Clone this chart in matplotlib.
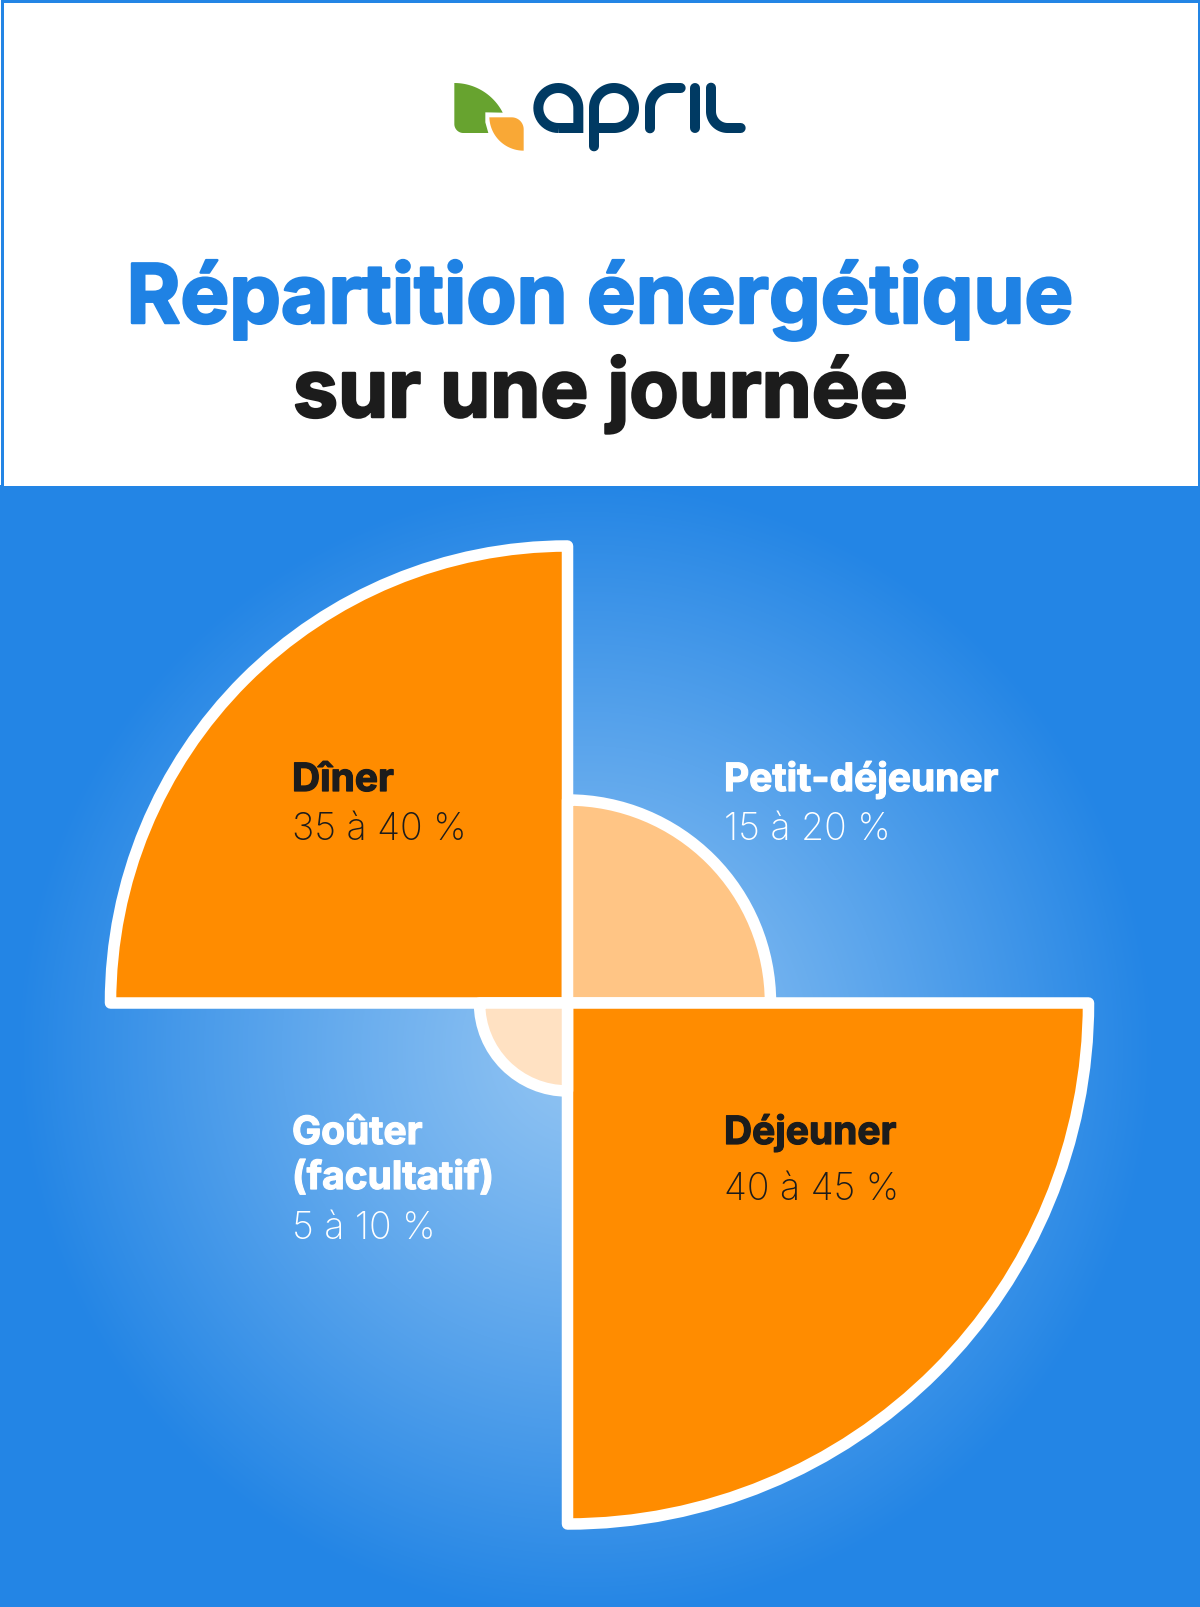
import matplotlib
matplotlib.use('Agg')
import matplotlib.pyplot as plt
import matplotlib.patheffects as pe
from matplotlib.patches import Polygon, Rectangle
import numpy as np

# Meals, clockwise from top left
meals = ['Dîner', 'Petit-déjeuner', 'Déjeuner', 'Goûter\n(facultatif)']
ranges = ['35 à 40 %', '15 à 20 %', '40 à 45 %', '5 à 10 %']
# radial length of each quarter
radii = [457, 203, 521, 88]
angles_deg = [135, 45, 315, 225]
slice_colors = ['#ff8c00', '#ffc585', '#ff8c00', '#ffe1c2']
text_colors = ['#1c1c1c', '#ffffff', '#1c1c1c', '#ffffff']

W, H = 1200, 1608
BLUE = '#2385e5'
NAVY = '#003a63'
BOLD = 'Inter'
LIGHT = 'Inter'


def arc(cx, cy, r, a0, a1, n=40):
    # angles in degrees, y pointing down
    t = np.radians(np.linspace(a0, a1, n))
    return np.column_stack([cx + r * np.cos(t), cy + r * np.sin(t)])


def heavy(color, lw):
    # thicken the bold face a little, same colour as the text
    return [pe.withStroke(linewidth=lw, foreground=color)]


def draw_logo(ax):
    # coordinates from a 3x crop of the logo starting at (420, 60)
    def to_px(pts):
        return np.asarray(pts) / 3.0 + [420, 60]

    green = np.vstack([[[103, 72]], arc(103, 235, 163, -90, -27), [[196, 160], [196, 190], [205, 222]],
                       arc(130, 195, 27, 90, 180)])
    orange = np.vstack([[[208, 175], [275, 175]], arc(275, 211, 36, -90, 0), [[311, 275]],
                        arc(311, 172, 103, 90, 175)])
    ax.add_patch(Polygon(to_px(green), closed=True, fc='#67a32f', ec='none', zorder=4))
    ax.add_patch(Polygon(to_px(orange), closed=True, fc='#f9a836', ec='none', zorder=4))

    strokes = [
        (np.vstack([arc(415, 147, 60, 90, 360), [[475, 207], [415, 207]]]), 'butt'),
        (np.vstack([[[522, 262]], arc(582, 147, 60, 180, 360), arc(582, 147, 60, 0, 90), [[522, 207]]]), 'round'),
        (np.vstack([[[690, 208]], arc(750, 147, 60, 180, 270), [[782, 87]]]), 'round'),
        (np.array([[825, 86], [825, 208]]), 'round'),
        (np.vstack([[[873, 86]], arc(923, 157, 50, 180, 90), [[962, 207]]]), 'round'),
    ]
    for pts, cap in strokes:
        p = to_px(pts)
        ax.plot(p[:, 0], p[:, 1], color=NAVY, lw=10 * 0.72, solid_capstyle=cap, solid_joinstyle='miter', zorder=4)


fig = plt.figure(figsize=(W / 100, H / 100), dpi=100)

# page: white header with thin border, blue panel with radial glow
bg = fig.add_axes([0, 0, 1, 1])
bg.set_xlim(0, W)
bg.set_ylim(H, 0)
bg.axis('off')
xx, yy = np.meshgrid(np.arange(W), np.arange(486, H))
dist = np.hypot(xx - 585, yy - 1050) / 570
dist = np.clip(dist, 0, 1)
c0 = np.array(matplotlib.colors.to_rgb('#93c5f3'))
c1 = np.array(matplotlib.colors.to_rgb(BLUE))
grad = c0 + (c1 - c0) * dist[..., None] ** 1.1
bg.imshow(grad, extent=[0, W, H, 486], aspect='auto', interpolation='bilinear', zorder=1)
bg.set_xlim(0, W)
bg.set_ylim(H, 0)
bg.add_patch(Rectangle((1.5, 1.5), W - 3, 486, fc='white', ec=BLUE, lw=3 * 0.72, zorder=2))

draw_logo(bg)

bg.text(600, 324, 'Répartition énergétique', color='#1f82e4', fontsize=59, family=BOLD, weight='bold',
        ha='center', va='baseline', zorder=5, path_effects=heavy('#1f82e4', 1.8))
bg.text(600, 418, 'sur une journée', color='#1c1c1c', fontsize=58, family=BOLD, weight='bold',
        ha='center', va='baseline', zorder=5, path_effects=heavy('#1c1c1c', 1.8))

# polar axes: one radial unit is one pixel, centred on the crossing of the quarters
cx, cy, rmax = 567.5, 1004, 600
ax = fig.add_axes([(cx - rmax) / W, 1 - (cy + rmax) / H, 2 * rmax / W, 2 * rmax / H], projection='polar')
ax.set_ylim(0, rmax)
ax.axis('off')
ax.patch.set_visible(False)
bars = ax.bar(np.radians(angles_deg), radii, width=np.pi / 2, color=slice_colors, edgecolor='white',
              linewidth=11.5 * 0.72, clip_on=False)
for b in bars:
    b.set_joinstyle('round')

# labels
label_x = [292, 724, 724, 292]
name_y = [792, 792, 1145, 1145]
range_y = [840, 840, 1200, 1239]
for name, rng, col, x, yn, yr in zip(meals, ranges, text_colors, label_x, name_y, range_y):
    for i, line in enumerate(name.split('\n')):
        fig.text(x / W, 1 - (yn + 45 * i) / H, line, color=col, fontsize=28, family=BOLD, weight='bold',
                 ha='left', va='baseline', path_effects=heavy(col, 0.9))
    fig.text(x / W, 1 - yr / H, rng, color=col, fontsize=27, family=LIGHT, weight='light',
             ha='left', va='baseline')

fig.savefig('out.png', dpi=100)
